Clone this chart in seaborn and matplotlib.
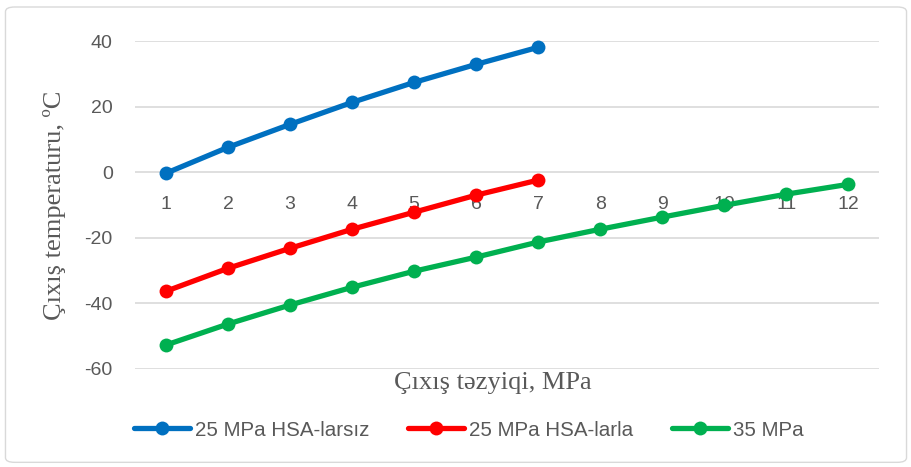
import matplotlib
matplotlib.use("Agg")
import matplotlib.pyplot as plt
import numpy as np
import pandas as pd
import seaborn as sns
from matplotlib.patches import FancyBboxPatch

# data
pressure = [1, 2, 3, 4, 5, 6, 7, 8, 9, 10, 11, 12]
temp_25_without = [-0.3, 7.6, 14.6, 21.3, 27.4, 32.9, 38.1]
temp_25_with = [-36.3, -29.3, -23.2, -17.4, -12.2, -7.0, -2.4]
temp_35 = [-52.7, -46.3, -40.5, -35.1, -30.2, -25.9, -21.3, -17.4, -13.7, -10.1, -6.7, -3.7]
series_names = ["25 MPa HSA-larsız", "25 MPa HSA-larla", "35 MPa"]
colors = ["#0070C0", "#FF0000", "#00B050"]

rows = []
for name, vals in zip(series_names, [temp_25_without, temp_25_with, temp_35]):
    for p, t in zip(pressure, vals):
        rows.append({"p": p, "t": t, "seriya": name})
df = pd.DataFrame(rows)

sns.set_style("white")
plt.rcParams['font.family'] = ['Liberation Sans', 'DejaVu Sans']
plt.rcParams['axes.unicode_minus'] = False

fig = plt.figure(figsize=(9.12, 4.67), dpi=100)
ax = fig.add_axes([0.148, 0.21, 0.816, 0.702])

sns.lineplot(data=df, x="p", y="t", hue="seriya", palette=colors,
             marker="o", markersize=10, markeredgewidth=0, linewidth=3.8,
             ax=ax, clip_on=False, zorder=3)

ax.set_xlim(0.5, 12.5)
ax.set_ylim(-60, 40)
ax.set_yticks(np.arange(-60, 41, 20))
ax.set_xticks(pressure)
ax.yaxis.grid(True, color="#d9d9d9", linewidth=1.2)
ax.set_axisbelow(True)
for s in ax.spines.values():
    s.set_visible(False)
ax.spines['bottom'].set_position(('data', 0))
ax.tick_params(axis='both', length=0, labelsize=14, labelcolor="#595959")
ax.tick_params(axis='x', pad=17)
ax.tick_params(axis='y', pad=16)

ax.set_xlabel("")
ax.set_ylabel("")
fig.text(0.54, 0.18, "Çıxış təzyiqi, MPa", ha="center", va="center",
         family=["Liberation Serif"], fontsize=19, color="#595959")
fig.text(0.06, 0.56, "Çıxış temperaturu, ºC", ha="center", va="center",
         rotation=90, family=["Liberation Serif"], fontsize=19, color="#595959")

handles, labels = ax.get_legend_handles_labels()
ax.legend_.remove()
fig.legend(handles, labels, loc="center", bbox_to_anchor=(0.514, 0.079), ncol=3,
           frameon=False, fontsize=14.8, handlelength=2.7, columnspacing=1.9,
           handletextpad=0.25, labelcolor="#595959")

fig.patches.append(FancyBboxPatch((0.006, 0.01), 0.988, 0.975,
                                  boxstyle="round,pad=0,rounding_size=0.01",
                                  transform=fig.transFigure, fill=False,
                                  edgecolor="#d9d9d9", linewidth=1))

fig.savefig("out.png", dpi=100, facecolor="white")
